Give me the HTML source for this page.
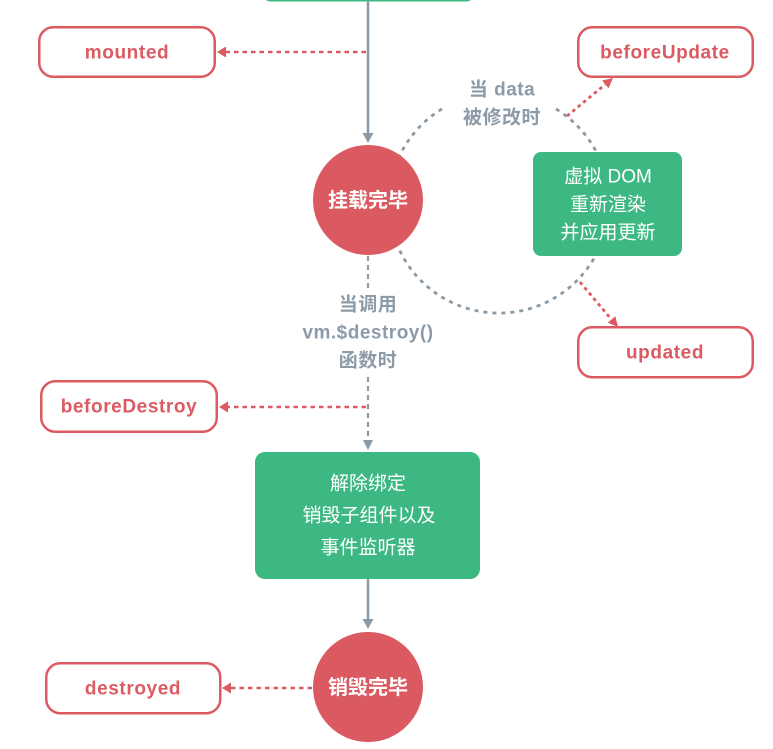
<!DOCTYPE html>
<html>
<head>
<meta charset="utf-8">
<style>
  html,body{margin:0;padding:0;background:#fff;}
  body{width:773px;height:749px;overflow:hidden;}
  svg{display:block;}
  .hook{font-family:"Liberation Sans","Noto Sans CJK SC",sans-serif;font-weight:bold;font-size:19px;fill:#dc5a61;letter-spacing:0.6px;}
  .gray{font-family:"Liberation Sans","Noto Sans CJK SC",sans-serif;font-weight:bold;font-size:19px;fill:#8c9ba7;letter-spacing:0.5px;}
  .circ{font-family:"Liberation Sans","Noto Sans CJK SC",sans-serif;font-weight:bold;font-size:20px;fill:#fff;}
  .grn{font-family:"Liberation Sans","Noto Sans CJK SC",sans-serif;font-size:19px;fill:#fff;}
</style>
</head>
<body>
<svg width="773" height="749" viewBox="0 0 773 749" xmlns="http://www.w3.org/2000/svg">
  <!-- top green box (cut off) -->
  <rect x="264" y="-20" width="209" height="21.5" rx="6" fill="#3eb882"/>

  <!-- solid line top to circle 1 -->
  <line x1="368" y1="1" x2="368" y2="134" stroke="#8a9ba7" stroke-width="2.5"/>
  <polygon points="362.5,133 373.5,133 368,143" fill="#8a9ba7"/>

  <!-- mounted -->
  <rect x="39.25" y="27.25" width="175.5" height="49.5" rx="14" fill="#fff" stroke="#dc5a61" stroke-width="2.5"/>
  <text class="hook" x="127" y="53" text-anchor="middle" dominant-baseline="central">mounted</text>
  <line x1="366" y1="52" x2="226" y2="52" stroke="#dc5a61" stroke-width="2.5" stroke-dasharray="4.5 4"/>
  <polygon points="217,52 226,46.5 226,57.5" fill="#dc5a61"/>

  <!-- dashed arc -->
  <path d="M556,109 A110,110 0 1 1 442.7,108.5" fill="none" stroke="#8a9ba7" stroke-width="2.8" stroke-dasharray="4 5"/>

  <!-- circle 1 -->
  <circle cx="368" cy="200" r="55" fill="#db5a61"/>
  <text class="circ" x="368" y="201" text-anchor="middle" dominant-baseline="central">挂载完毕</text>

  <!-- 当 data 被修改时 -->
  <text class="gray" x="502" y="90" text-anchor="middle" dominant-baseline="central">当 data</text>
  <text class="gray" x="502" y="118" text-anchor="middle" dominant-baseline="central">被修改时</text>

  <!-- beforeUpdate -->
  <rect x="578.25" y="27.25" width="174.5" height="49.5" rx="14" fill="#fff" stroke="#dc5a61" stroke-width="2.5"/>
  <text class="hook" x="665" y="53" text-anchor="middle" dominant-baseline="central">beforeUpdate</text>
  <line x1="567" y1="116" x2="605" y2="84.6" stroke="#dc5a61" stroke-width="2.8" stroke-dasharray="3.5 3.5"/>
  <polygon points="613,78 608.5,88.3 602.1,80.5" fill="#dc5a61"/>

  <!-- green box 1 -->
  <rect x="533" y="152" width="149" height="104" rx="8" fill="#3eb882"/>
  <text class="grn" x="608" y="177" text-anchor="middle" dominant-baseline="central">虚拟 DOM</text>
  <text class="grn" x="608" y="205" text-anchor="middle" dominant-baseline="central">重新渲染</text>
  <text class="grn" x="608" y="233" text-anchor="middle" dominant-baseline="central">并应用更新</text>

  <!-- updated -->
  <line x1="580" y1="282" x2="611" y2="319" stroke="#dc5a61" stroke-width="2.8" stroke-dasharray="3.5 3.5"/>
  <polygon points="618,327 607.7,322.6 615.4,316.2" fill="#dc5a61"/>
  <rect x="578.25" y="327.25" width="174.5" height="50" rx="14" fill="#fff" stroke="#dc5a61" stroke-width="2.5"/>
  <text class="hook" x="665" y="353" text-anchor="middle" dominant-baseline="central">updated</text>

  <!-- vertical dashed -->
  <line x1="368" y1="256" x2="368" y2="290" stroke="#8a9ba7" stroke-width="2.2" stroke-dasharray="5 4"/>
  <text class="gray" x="368" y="305" text-anchor="middle" dominant-baseline="central">当调用</text>
  <text class="gray" x="368" y="333" text-anchor="middle" dominant-baseline="central">vm.$destroy()</text>
  <text class="gray" x="368" y="361" text-anchor="middle" dominant-baseline="central">函数时</text>
  <line x1="368" y1="377" x2="368" y2="441" stroke="#8a9ba7" stroke-width="2.2" stroke-dasharray="5 4"/>
  <polygon points="363,440 373,440 368,450" fill="#8a9ba7"/>

  <!-- beforeDestroy -->
  <rect x="41.25" y="381.25" width="175.5" height="50.5" rx="14" fill="#fff" stroke="#dc5a61" stroke-width="2.5"/>
  <text class="hook" x="129" y="407" text-anchor="middle" dominant-baseline="central">beforeDestroy</text>
  <line x1="366" y1="407" x2="228" y2="407" stroke="#dc5a61" stroke-width="2.5" stroke-dasharray="4.5 4"/>
  <polygon points="219,407 228,401.5 228,412.5" fill="#dc5a61"/>

  <!-- green box 2 -->
  <rect x="255" y="452" width="225" height="127" rx="10" fill="#3eb882"/>
  <text class="grn" x="368" y="484" text-anchor="middle" dominant-baseline="central">解除绑定</text>
  <text class="grn" x="369" y="516" text-anchor="middle" dominant-baseline="central">销毁子组件以及</text>
  <text class="grn" x="368" y="548" text-anchor="middle" dominant-baseline="central">事件监听器</text>

  <!-- solid line to circle 2 -->
  <line x1="368" y1="579" x2="368" y2="621" stroke="#8a9ba7" stroke-width="2.5"/>
  <polygon points="362.5,619 373.5,619 368,629" fill="#8a9ba7"/>

  <!-- circle 2 -->
  <circle cx="368" cy="687" r="55" fill="#db5a61"/>
  <text class="circ" x="368" y="688" text-anchor="middle" dominant-baseline="central">销毁完毕</text>

  <!-- destroyed -->
  <rect x="46.25" y="663.25" width="174" height="50" rx="14" fill="#fff" stroke="#dc5a61" stroke-width="2.5"/>
  <text class="hook" x="133" y="689" text-anchor="middle" dominant-baseline="central">destroyed</text>
  <line x1="312" y1="688" x2="231" y2="688" stroke="#dc5a61" stroke-width="2.5" stroke-dasharray="4.5 4"/>
  <polygon points="222,688 231,682.5 231,693.5" fill="#dc5a61"/>
</svg>
</body>
</html>
